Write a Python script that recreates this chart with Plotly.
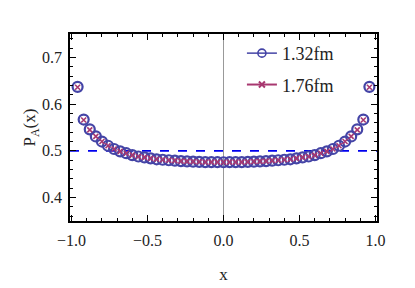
import plotly.graph_objects as go

# Data
x_vals = [-0.96, -0.92, -0.88, -0.84, -0.80, -0.76, -0.72, -0.68, -0.64, -0.60,
          -0.56, -0.52, -0.48, -0.44, -0.40, -0.36, -0.32, -0.28, -0.24, -0.20,
          -0.16, -0.12, -0.08, -0.04, 0.00, 0.04, 0.08, 0.12, 0.16, 0.20,
          0.24, 0.28, 0.32, 0.36, 0.40, 0.44, 0.48, 0.52, 0.56, 0.60,
          0.64, 0.68, 0.72, 0.76, 0.80, 0.84, 0.88, 0.92, 0.96]

pa_132 = [0.637, 0.567, 0.546, 0.531, 0.520, 0.511, 0.504, 0.499, 0.495, 0.491,
          0.488, 0.486, 0.484, 0.482, 0.481, 0.480, 0.479, 0.478, 0.4775, 0.477,
          0.4765, 0.476, 0.476, 0.4758, 0.4757, 0.4758, 0.476, 0.476, 0.4765, 0.477,
          0.4775, 0.478, 0.479, 0.480, 0.481, 0.482, 0.484, 0.486, 0.488, 0.491,
          0.495, 0.499, 0.504, 0.511, 0.520, 0.531, 0.546, 0.567, 0.637]

pa_176 = [0.636, 0.566, 0.545, 0.531, 0.520, 0.511, 0.504, 0.499, 0.495, 0.491,
          0.488, 0.486, 0.484, 0.482, 0.481, 0.480, 0.479, 0.478, 0.4775, 0.477,
          0.4765, 0.476, 0.476, 0.4758, 0.4757, 0.4758, 0.476, 0.476, 0.4765, 0.477,
          0.4775, 0.478, 0.479, 0.480, 0.481, 0.482, 0.484, 0.486, 0.488, 0.491,
          0.495, 0.499, 0.504, 0.511, 0.520, 0.531, 0.545, 0.566, 0.636]

series_names = ["1.32fm", "1.76fm"]
reference_level = 0.5

FONT = "Liberation Serif, DejaVu Serif, serif"
c1 = "#4444a6"
c2 = "#a83870"

fig = go.Figure()

fig.add_trace(go.Scatter(
    x=x_vals, y=pa_132, name=series_names[0], mode="markers", showlegend=False,
    marker=dict(symbol="circle-open", size=10, color=c1, line=dict(width=2.2, color=c1)),
    legendgroup="a",
))
fig.add_trace(go.Scatter(
    x=x_vals, y=pa_176, name=series_names[1], mode="markers", showlegend=False,
    marker=dict(symbol="x-thin-open", size=5, color=c2, line=dict(width=1.6, color=c2)),
    legendgroup="b",
))

# Legend entries (line + marker style)
fig.add_trace(go.Scatter(
    x=[None], y=[None], name=series_names[0], mode="lines+markers",
    marker=dict(symbol="circle-open", size=8, color=c1, line=dict(width=1.6, color=c1)),
    line=dict(color=c1, width=1.5), legendgroup="a",
))
fig.add_trace(go.Scatter(
    x=[None], y=[None], name=series_names[1], mode="lines+markers",
    marker=dict(symbol="x-thin-open", size=6, color=c2, line=dict(width=2, color=c2)),
    line=dict(color=c2, width=2), legendgroup="b",
))

fig.add_vline(x=0, line=dict(color="#999999", width=1), layer="below")
fig.add_hline(y=reference_level, line=dict(color="#0000ee", width=1.6, dash="dash"), layer="below")

axis_common = dict(
    showgrid=False, zeroline=False, showline=True, linecolor="black", linewidth=1.5,
    mirror="allticks", ticks="inside", tickcolor="black", tickwidth=1.2, ticklen=6,
    tickfont=dict(family=FONT, size=16, color="#222222"),
)

fig.update_xaxes(
    range=[-1.01, 1.01], tickvals=[-1.0, -0.5, 0.0, 0.5, 1.0],
    ticktext=["\u22121.0", "\u22120.5", "0.0", "0.5", "1.0"],
    minor=dict(dtick=0.1, tick0=0, ticks="inside", ticklen=3, tickcolor="black", tickwidth=1),
    title=dict(text="x", font=dict(family=FONT, size=17, color="#222222"), standoff=20),
    ticklabelstandoff=4,
    **axis_common,
)
fig.update_yaxes(
    range=[0.35, 0.75], tickvals=[0.4, 0.5, 0.6, 0.7],
    ticktext=["0.4", "0.5", "0.6", "0.7"],
    minor=dict(dtick=0.02, tick0=0, ticks="inside", ticklen=3, tickcolor="black", tickwidth=1),
    title=dict(text="P<sub>A</sub>(x)", font=dict(family=FONT, size=17, color="#222222"), standoff=2),
    ticklabelstandoff=3,
    **axis_common,
)

fig.update_layout(
    width=415, height=288,
    margin=dict(l=62, r=46, t=26, b=75, autoexpand=False),
    plot_bgcolor="white", paper_bgcolor="white",
    showlegend=True,
    legend=dict(x=0.56, y=0.995, xanchor="left", yanchor="top",
                bgcolor="rgba(0,0,0,0)", font=dict(family=FONT, size=18, color="#222222"),
                tracegroupgap=5, itemwidth=30),
)

fig.write_html("out.html")
